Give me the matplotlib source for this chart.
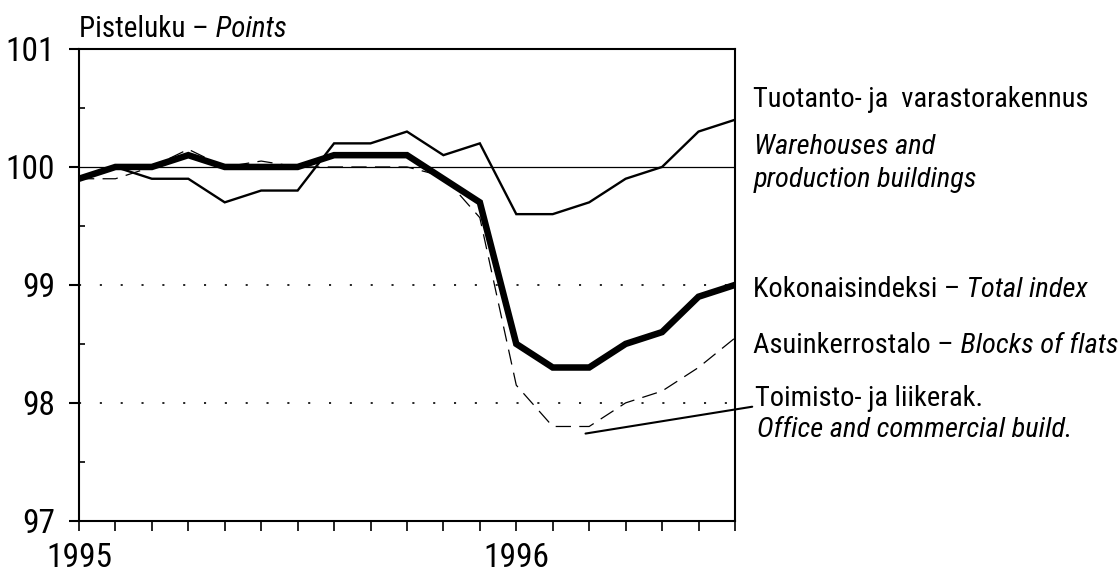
import numpy as np
import matplotlib
matplotlib.use("Agg")
import matplotlib.pyplot as plt
from matplotlib.ticker import FixedLocator, MultipleLocator

plt.rcParams['font.family'] = ['Liberation Sans Narrow', 'DejaVu Sans Condensed',
                               'Roboto Condensed', 'Liberation Sans', 'DejaVu Sans']
plt.rcParams['lines.scale_dashes'] = False

# ---------------- data (monthly, Jan 1995 .. Jul 1996) ----------------
months = np.arange(19)
total_index = [99.9, 100.0, 100.0, 100.1, 100.0, 100.0, 100.0, 100.1, 100.1, 100.1,
               99.9, 99.7, 98.5, 98.3, 98.3, 98.5, 98.6, 98.9, 99.0]
warehouses = [99.9, 100.0, 99.9, 99.9, 99.7, 99.8, 99.8, 100.2, 100.2, 100.3,
              100.1, 100.2, 99.6, 99.6, 99.7, 99.9, 100.0, 100.3, 100.4]
blocks_of_flats = [99.9, 100.0, 100.0, 100.1, 100.0, 100.0, 100.0, 100.1, 100.1, 100.1,
                   99.9, 99.7, 98.5, 98.3, 98.3, 98.5, 98.6, 98.9, 99.0]
office = [99.9, 99.9, 100.0, 100.15, 100.0, 100.05, 100.0, 100.0, 100.0, 100.0,
          99.92, 99.57, 98.15, 97.8, 97.8, 98.0, 98.1, 98.3, 98.55]
year_ticks = [0, 12]
year_labels = ['1995', '1996']

fig = plt.figure(figsize=(11.2, 5.73), dpi=100)
ax = fig.add_axes([0.0705, 0.091, 0.5857, 0.8235])

# ---------- reference lines ----------
ax.axhline(100, color='black', lw=0.9, zorder=1)
for yv in (99, 98):
    ax.axhline(yv, color='black', lw=1.2, ls=(0, (1.5, 13.5)), zorder=1)

# ---------- series ----------
ax.plot(months, office, color='black', lw=0.9, ls=(0, (11, 6)), zorder=2)
ax.plot(months, blocks_of_flats, color='black', lw=0.9, ls=(0, (11, 6)), zorder=2)
ax.plot(months, warehouses, color='black', lw=1.7, zorder=3, solid_joinstyle='miter')
ax.plot(months, total_index, color='black', lw=4.7, zorder=4, solid_joinstyle='miter')

ax.set_xlim(0, 18)
ax.set_ylim(97, 101)

# ---------- axes styling ----------
for s in ax.spines.values():
    s.set_linewidth(1.5)
ax.xaxis.set_major_locator(FixedLocator(list(months)))
ax.set_xticklabels([year_labels[year_ticks.index(m)] if m in year_ticks else '' for m in months])
ax.tick_params(axis='x', which='major', direction='out', length=7, width=1.2,
               labelsize=24, pad=8)
ax.yaxis.set_major_locator(MultipleLocator(1))
ax.yaxis.set_minor_locator(MultipleLocator(0.5))
ax.tick_params(axis='y', which='major', direction='out', length=7, width=1.5,
               labelsize=24, pad=10)
ax.tick_params(axis='y', which='minor', direction='in', length=4, width=1.2)

# ---------- texts ----------
fs = 20.5
t = ax.text(0.0, 1.026, 'Pisteluku \u2013', transform=ax.transAxes, fontsize=21,
            ha='left', va='baseline')
ax.annotate(' Points', xy=(1, 0), xycoords=t, fontsize=21, style='italic',
            ha='left', va='bottom')

tx = 18.5
ax.text(tx, 100.57, 'Tuotanto- ja  varastorakennus', fontsize=fs, va='center',
        ha='left', clip_on=False)
ax.text(tx + 0.02, 100.17, 'Warehouses and', fontsize=fs, style='italic',
        va='center', ha='left', clip_on=False)
ax.text(tx + 0.02, 99.89, 'production buildings', fontsize=fs, style='italic',
        va='center', ha='left', clip_on=False)

t = ax.text(tx, 98.96, 'Kokonaisindeksi \u2013', fontsize=fs, va='center',
            ha='left', clip_on=False)
ax.annotate(' Total index', xy=(1, 0), xycoords=t, fontsize=fs, style='italic',
            ha='left', va='bottom')

t = ax.text(tx, 98.49, 'Asuinkerrostalo \u2013', fontsize=fs, va='center',
            ha='left', clip_on=False)
ax.annotate(' Blocks of flats', xy=(1, 0), xycoords=t, fontsize=fs, style='italic',
            ha='left', va='bottom')

ax.annotate('Toimisto- ja liikerak.', xy=(13.9, 97.74), xytext=(tx + 0.05, 98.04),
            fontsize=fs, va='center', ha='left', annotation_clip=False,
            arrowprops=dict(arrowstyle='-', color='black', lw=1.5,
                            shrinkA=0, shrinkB=0, relpos=(0, 0.2)))
ax.text(tx + 0.1, 97.77, 'Office and commercial build.', fontsize=fs,
        style='italic', va='center', ha='left', clip_on=False)

fig.savefig('out.png', dpi=100)
